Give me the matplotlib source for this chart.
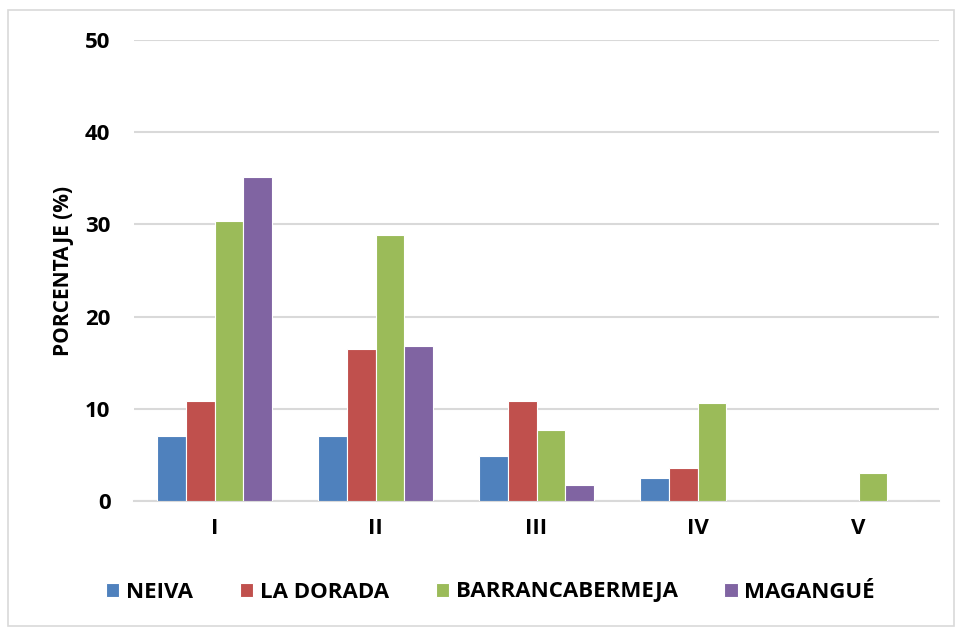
import matplotlib
matplotlib.use("Agg")
import matplotlib.pyplot as plt
import numpy as np
from matplotlib.patches import Rectangle

categories = ["I", "II", "III", "IV", "V"]
series_names = ["NEIVA", "LA DORADA", "BARRANCABERMEJA", "MAGANGUÉ"]
neiva = [7.1, 7.1, 4.9, 2.5, 0.0]
la_dorada = [10.9, 16.5, 10.9, 3.6, 0.0]
barrancabermeja = [30.4, 28.8, 7.7, 10.6, 3.0]
magangue = [35.1, 16.8, 1.7, 0.0, 0.0]
y_ticks = [0, 10, 20, 30, 40, 50]
y_label = "PORCENTAJE (%)"

colors = ["#4F81BD", "#C0504D", "#9BBB59", "#8064A2"]
plt.rcParams['font.family'] = ['Open Sans', 'DejaVu Sans']

fig = plt.figure(figsize=(9.56, 6.28), dpi=100)
ax = fig.add_axes([134/956, 1-501/628, (939-134)/956, (501-40)/628])

x = np.arange(len(categories))
w = 0.18
all_series = [neiva, la_dorada, barrancabermeja, magangue]
for i, (vals, name, c) in enumerate(zip(all_series, series_names, colors)):
    ax.bar(x + (i - 1.5) * w, vals, width=w, color=c, edgecolor="white",
           linewidth=0.8, label=name, zorder=3)

ax.set_xlim(-0.5, len(categories) - 0.5)
ax.set_ylim(0, 50)
ax.set_yticks(y_ticks)
ax.set_yticklabels([str(t) for t in y_ticks], fontsize=16, fontweight="bold")
ax.set_xticks(x)
ax.set_xticklabels(categories, fontsize=16, fontweight="bold")
ax.tick_params(axis="both", length=0)
ax.tick_params(axis="y", pad=17)
ax.tick_params(axis="x", pad=12)
ax.grid(axis="y", color="#D9D9D9", linewidth=1.5, zorder=0)
for s in ["top", "right", "left"]:
    ax.spines[s].set_visible(False)
ax.spines["bottom"].set_color("#D9D9D9")
ax.spines["bottom"].set_linewidth(1.5)
ax.set_ylabel(y_label, fontsize=15, fontweight="bold", labelpad=8)

leg = fig.legend(loc="center", bbox_to_anchor=(0.513, 1-592/628), ncol=4,
                 frameon=False, prop={"size": 16, "weight": "bold"},
                 handlelength=0.6, handleheight=0.6, handletextpad=0.3,
                 columnspacing=2.1)

fig.patches.append(Rectangle((8/956, 2/628), 946/956, 616/628, transform=fig.transFigure,
                             fill=False, edgecolor="#D9D9D9", linewidth=1.2))

fig.savefig("out.png", dpi=100)
